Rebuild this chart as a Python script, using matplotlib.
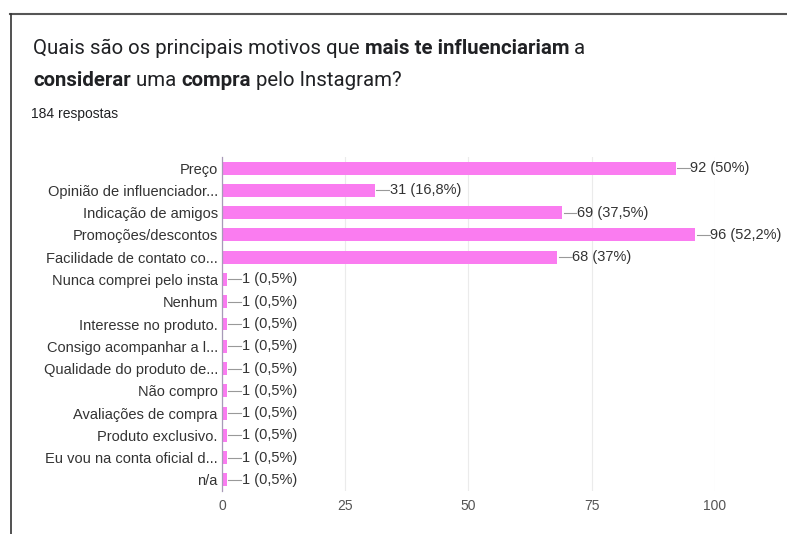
import matplotlib.pyplot as plt
from matplotlib.lines import Line2D

# Dados
categorias = [
    'Preço', 'Opinião de influenciador...', 'Indicação de amigos',
    'Promoções/descontos', 'Facilidade de contato co...',
    'Nunca comprei pelo insta', 'Nenhum', 'Interesse no produto.',
    'Consigo acompanhar a l...', 'Qualidade do produto de...', 'Não compro',
    'Avaliações de compra', 'Produto exclusivo.', 'Eu vou na conta oficial d...', 'n/a',
]
valores = [92, 31, 69, 96, 68, 1, 1, 1, 1, 1, 1, 1, 1, 1, 1]
total = 184
ticks = [0, 25, 50, 75, 100]

cor_barra = '#FA7CF0'
fonte = 'Liberation Sans'

fig = plt.figure(figsize=(7.87, 5.34), dpi=100)
ax = fig.add_axes([0.282, 0.0805, 0.6265, 0.6255])

y = list(range(len(categorias)))
ax.barh(y, valores, height=0.58, color=cor_barra, zorder=3)
ax.set_ylim(len(categorias) - 0.5, -0.5)
ax.set_xlim(0, 100)

ax.set_yticks(y)
ax.set_yticklabels(categorias, fontsize=10.5, color='#333333', family=fonte)
ax.set_xticks(ticks)
ax.set_xticklabels([str(t) for t in ticks], fontsize=10, color='#555555', family=fonte)
ax.tick_params(axis='y', length=0, pad=3)
ax.tick_params(axis='x', length=0, pad=6)
ax.grid(axis='x', color='#ebebeb', linewidth=0.8, zorder=0)
for s in ['top', 'right', 'bottom']:
    ax.spines[s].set_visible(False)
ax.spines['left'].set_color('#a89ab8')
ax.spines['left'].set_linewidth(0.9)
ax.spines['left'].set_zorder(4)

# Rótulos de valor com linha guia
for i, v in enumerate(valores):
    pct = round(v / total * 100, 1)
    pct_txt = ('%g' % pct).replace('.', ',')
    ax.plot([v + 0.3, v + 2.9], [i, i], color='#999999', linewidth=0.8, zorder=4, clip_on=False)
    ax.text(v + 3.0, i, '%d (%s%%)' % (v, pct_txt), va='center', ha='left',
            fontsize=10.5, color='#333333', family=fonte, clip_on=False)

# Título com partes em negrito
partes1 = [('Quais são os principais motivos que ', 'normal'),
           ('mais te influenciariam', 'bold'), (' a', 'normal')]
partes2 = [('considerar', 'bold'), (' uma ', 'normal'), ('compra', 'bold'),
           (' pelo Instagram?', 'normal')]
r = fig.canvas.get_renderer()
for partes, ypix in [(partes1, 48), (partes2, 80)]:
    x = 33 / 787
    for txt, peso in partes:
        t = fig.text(x, 1 - ypix / 534, txt, fontsize=14.7, fontweight=peso, color='#202124',
                     family='Roboto', va='center', ha='left')
        bb = t.get_window_extent(renderer=r)
        x += bb.width / fig.bbox.width

fig.text(31 / 787, 1 - 114 / 534, '184 respostas', fontsize=10, color='#202124',
         family=fonte, va='center', ha='left')

# Borda do cartão
fig.add_artist(Line2D([10 / 787, 1], [1 - 14 / 534, 1 - 14 / 534], color='#555555', linewidth=1.5))
fig.add_artist(Line2D([11 / 787, 11 / 787], [0, 1 - 14 / 534], color='#333333', linewidth=1.2))

fig.savefig('out.png', dpi=100)
